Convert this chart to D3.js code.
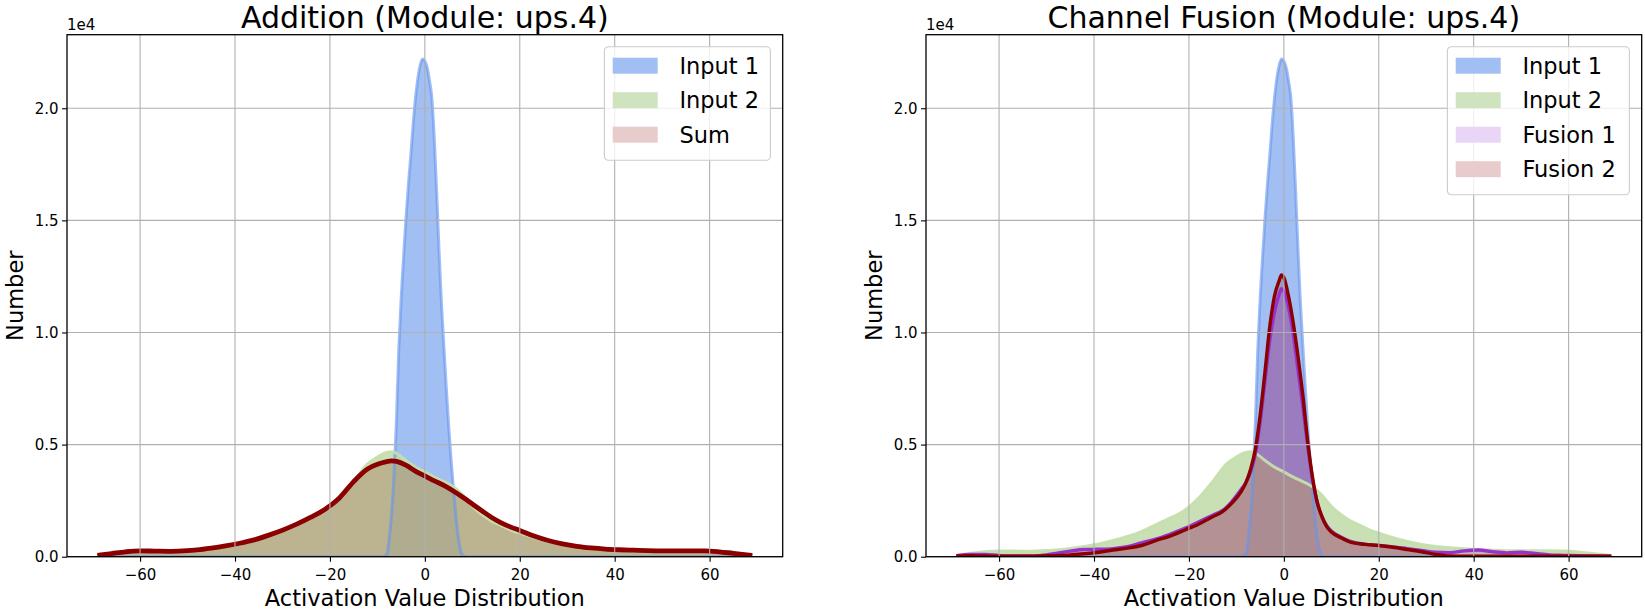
<!DOCTYPE html>
<html><head><meta charset="utf-8">
<script src="https://cdn.jsdelivr.net/npm/d3@7"></script>
<style>body{margin:0;background:#fff} svg{display:block} text{font-family:"DejaVu Sans",sans-serif;fill:#000}</style>
</head><body><svg id="c" width="1645" height="610"></svg>
<script>
// ---------------- data (counts in thousands) ----------------
const input1X = [-69,-9,-8,-7.5,-7,-6.5,-6,-5.5,-5,-4.5,-4,-3.5,-3,-2.5,-2,-1.5,-1,-0.5,0,0.5,1,1.5,2,2.5,3,3.5,4,4.5,5,5.5,6,6.5,7,7.5,8,9,69];
const input1Y = [0,0,0.1,0.8,1.9,3.6,6.0,9.2,11.5,13.3,15.0,16.5,17.8,19.2,20.4,21.3,21.9,22.2,22.1,21.8,21.2,20.4,18.6,16.2,13.6,11.3,9.4,7.6,5.9,4.4,3.1,1.9,0.9,0.3,0.05,0,0];

const wideX = [-69,-66,-63,-60,-57,-54,-51,-48,-45,-42,-39,-36,-33,-30,-27,-24,-21,-18,-15,
  -12,-10,-8,-7,-6,-4,-2,0,2,4,6,8,10,12,14,16,18,20,
  23,26,29,32,35,38,41,44,47,50,53,56,59,62,65,69];
const input2Y = [0.05,0.15,0.22,0.25,0.25,0.24,0.26,0.3,0.37,0.46,0.57,0.72,0.9,1.12,1.42,1.72,2.05,2.6,3.35,
  4.15,4.45,4.65,4.68,4.62,4.3,4.0,3.78,3.55,3.35,3.12,2.75,2.25,1.88,1.6,1.4,1.2,1.05,
  0.85,0.68,0.55,0.46,0.4,0.35,0.31,0.29,0.27,0.26,0.26,0.26,0.25,0.21,0.14,0.05];
const sumY = [0.06,0.14,0.22,0.26,0.25,0.24,0.26,0.3,0.38,0.48,0.6,0.75,0.95,1.18,1.45,1.76,2.12,2.62,3.35,
  3.92,4.12,4.24,4.27,4.25,4.08,3.82,3.6,3.38,3.18,2.93,2.65,2.35,2.05,1.76,1.52,1.33,1.17,
  0.92,0.72,0.57,0.46,0.39,0.34,0.31,0.29,0.27,0.26,0.26,0.26,0.26,0.22,0.15,0.06];

const fusionX = [-69,-66,-63,-60,-57,-54,-51,-48,-45,-42,-39,-36,-33,-30,-27,-24,-21,-18,-15,
  -13,-11,-9,-8,-7,-6,-5,-4,-3,-2,-1,-0.5,
  0,1,2,3,4,5,6,7,8,9,10,
  12,14,17,20,23,26,29,32,35,38,41,44,47,50,53,56,59,62,65,69];
const fusion1Y = [0.05,0.1,0.1,0.05,0.03,0.03,0.06,0.15,0.25,0.32,0.33,0.36,0.45,0.62,0.78,1.0,1.25,1.55,1.85,
  2.05,2.45,3.0,3.3,3.8,4.6,6.0,7.8,9.6,10.9,11.7,11.95,
  11.85,11.1,9.9,8.3,6.7,5.0,3.5,2.45,1.8,1.4,1.15,
  0.88,0.68,0.56,0.5,0.44,0.36,0.28,0.2,0.18,0.26,0.3,0.22,0.17,0.2,0.14,0.08,0.06,0.04,0.03,0.02];
const fusion2Y = [0.03,0.04,0.03,0.02,0.02,0.02,0.03,0.05,0.08,0.13,0.2,0.3,0.38,0.5,0.72,0.92,1.18,1.45,1.78,
  2.0,2.38,2.9,3.3,3.9,4.8,6.3,8.2,10.2,11.6,12.3,12.56,
  12.45,11.6,10.4,8.9,7.2,5.2,3.6,2.45,1.8,1.35,1.1,
  0.85,0.65,0.55,0.5,0.42,0.32,0.22,0.1,0.03,0.02,0.02,0.02,0.02,0.02,0.02,0.02,0.02,0.02,0.02,0.02];

const xTicks = [-60,-40,-20,0,20,40,60];
const yTicks = [0,5,10,15,20];
const titles = ["Addition (Module: ups.4)", "Channel Fusion (Module: ups.4)"];
const legendLeft = ["Input 1","Input 2","Sum"];
const legendRight = ["Input 1","Input 2","Fusion 1","Fusion 2"];
const xLabel = "Activation Value Distribution";
const yLabel = "Number";
const offsetLabel = "1e4";

// ---------------- styles ----------------
const C = {
  in1: {fill:"rgba(100,149,237,0.6)", line:"rgba(100,149,237,0.6)", lw:3, patch:"#a2bff4"},
  in2: {fill:"rgba(190,219,167,0.85)", line:"rgba(196,223,172,0.95)", lw:3, patch:"#d0e3bf"},
  sum: {fill:"rgba(139,0,0,0.2)", line:"#8b0000", lw:4.8, patch:"#e8cccc"},
  f1:  {fill:"rgba(148,0,211,0.18)", line:"#9932cc", lw:3.4, patch:"#e9d6f6"},
  f2:  {fill:"rgba(139,0,0,0.2)", line:"#8b0000", lw:3.4, patch:"#e8cccc"}
};

const svg = d3.select("#c");
const W = 715.7, H = 522;

function panel(x0, y0, series, legendItems, legendW, title) {
  const g = svg.append("g").attr("transform", `translate(${x0},${y0})`);
  const x = d3.scaleLinear().domain([-75.4, 75.4]).range([0, W]);
  const y = d3.scaleLinear().domain([0, 23.28]).range([H, 0]);
  const area = d3.area().curve(d3.curveMonotoneX).x(d => x(d[0])).y0(H).y1(d => y(d[1]));
  const line = d3.line().curve(d3.curveMonotoneX).x(d => x(d[0])).y(d => y(d[1]));
  const clipId = "clip" + x0;
  g.append("clipPath").attr("id", clipId).append("rect").attr("width", W).attr("height", H);
  const plot = g.append("g").attr("clip-path", `url(#${clipId})`);
  // fills
  series.forEach(s => {
    const pts = s.x.map((v,i) => [v, s.y[i]]);
    plot.append("path").datum(pts).attr("d", area).attr("fill", s.st.fill).attr("stroke", "none");
  });
  // grid
  const grid = g.append("g");
  xTicks.forEach(t => grid.append("line").attr("x1", x(t)).attr("x2", x(t)).attr("y1", 0).attr("y2", H)
    .attr("stroke", "#b0b0b0").attr("stroke-width", 1.1));
  yTicks.forEach(t => grid.append("line").attr("y1", y(t)).attr("y2", y(t)).attr("x1", 0).attr("x2", W)
    .attr("stroke", "#b0b0b0").attr("stroke-width", 1.1));
  // lines
  series.forEach(s => {
    const pts = s.x.map((v,i) => [v, s.y[i]]);
    plot.append("path").datum(pts).attr("d", line).attr("fill", "none")
      .attr("stroke", s.st.line).attr("stroke-width", s.st.lw).attr("stroke-linejoin", "round").attr("stroke-linecap", "butt");
  });
  // axes
  const xa = g.append("g").attr("transform", `translate(0,${H})`)
    .call(d3.axisBottom(x).tickValues(xTicks).tickSize(5).tickPadding(3.5).tickFormat(d => String(d).replace("-", "\u2212")));
  const ya = g.append("g").call(d3.axisLeft(y).tickValues(yTicks).tickSize(5).tickPadding(3.5).tickFormat(d => (d/10).toFixed(1)));
  [xa, ya].forEach(a => {
    a.select(".domain").remove();
    a.selectAll("line").attr("stroke", "#000").attr("stroke-width", 1.1);
    a.selectAll("text").attr("font-size", "15px").attr("font-family", "DejaVu Sans").attr("fill", "#000");
  });
  xa.selectAll("text").attr("dy", "0.96em");
  // spines
  g.append("rect").attr("width", W).attr("height", H).attr("fill", "none").attr("stroke", "#000").attr("stroke-width", 1.3);
  // labels
  g.append("text").attr("x", W/2).attr("y", -6.8).attr("text-anchor", "middle").attr("font-size", "30px").text(title);
  g.append("text").attr("x", 0).attr("y", -4.5).attr("font-size", "15px").text(offsetLabel);
  g.append("text").attr("x", W/2).attr("y", 606 - y0).attr("text-anchor", "middle").attr("font-size", "22.5px").text(xLabel);
  g.append("text").attr("transform", `translate(-44.3,${H/2}) rotate(-90)`).attr("text-anchor", "middle").attr("font-size", "22.5px").text(yLabel);
  // legend
  const lx = W - 12.3 - legendW, ly = 12;
  const lg = g.append("g").attr("transform", `translate(${lx},${ly})`);
  lg.append("rect").attr("width", legendW).attr("height", 12 + legendItems.length * 34.5 - 2)
    .attr("rx", 4).attr("fill", "rgba(255,255,255,0.8)").attr("stroke", "#cccccc").attr("stroke-width", 1.1);
  legendItems.forEach((it, i) => {
    const cy = 19 + i * 34.5;
    lg.append("rect").attr("x", 8.3).attr("y", cy - 8).attr("width", 45).attr("height", 16).attr("fill", it.st.patch);
    lg.append("text").attr("x", 75).attr("y", cy).attr("dy", "0.36em").attr("font-size", "22.5px").text(it.name);
  });
}

const leftSeries = [
  {x: input1X, y: input1Y, st: C.in1},
  {x: wideX, y: input2Y, st: C.in2},
  {x: wideX, y: sumY, st: C.sum}
];
const rightSeries = [
  {x: input1X, y: input1Y, st: C.in1},
  {x: wideX, y: input2Y, st: C.in2},
  {x: fusionX, y: fusion1Y, st: C.f1},
  {x: fusionX, y: fusion2Y, st: C.f2}
];
panel(67, 34.7, leftSeries, legendLeft.map((n,i) => ({name:n, st:[C.in1,C.in2,C.sum][i]})), 166, titles[0]);
panel(926, 34.7, rightSeries, legendRight.map((n,i) => ({name:n, st:[C.in1,C.in2,C.f1,C.f2][i]})), 182, titles[1]);
</script></body></html>
